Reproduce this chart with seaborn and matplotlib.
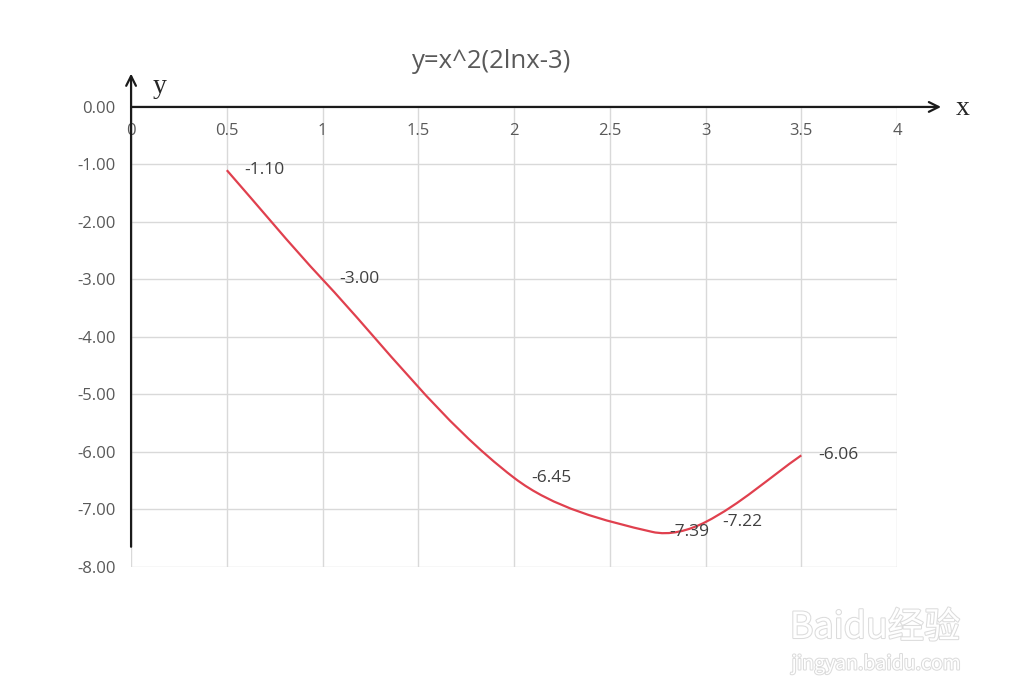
import numpy as np
import matplotlib.pyplot as plt
import seaborn as sns
import matplotlib.patheffects as pe
from matplotlib.path import Path
from matplotlib.patches import PathPatch

# 数据
x_vals = [0.5, 1.0, 2.0, 2.72, 3.0, 3.5]
y_vals = [-1.10, -3.00, -6.45, -7.39, -7.22, -6.06]
x_ticks = [0, 0.5, 1, 1.5, 2, 2.5, 3, 3.5, 4]
x_tick_labels = ['0', '0.5', '1', '1.5', '2', '2.5', '3', '3.5', '4']
y_ticks = [0, -1, -2, -3, -4, -5, -6, -7, -8]
chart_title = 'y=x^2(2lnx-3)'

sns.set_style('white')
plt.rcParams['font.family'] = ['Open Sans', 'DejaVu Sans']

fig = plt.figure(figsize=(10.24, 6.99), dpi=100)
ax = fig.add_axes([0.128, 0.189, 0.748, 0.658])
ax.set_xlim(0, 4)
ax.set_ylim(-8, 0)

# 网格
ax.set_xticks(x_ticks)
ax.set_xticklabels([])
ax.set_yticks(y_ticks)
ax.set_yticklabels([f'{v:.2f}' for v in y_ticks], color='#595959', fontsize=12)
ax.tick_params(length=0, pad=11)
ax.grid(True, color='#d9d9d9', lw=1)
for s in ax.spines.values():
    s.set_visible(False)

# x 轴刻度标签（在 y=0 线下方）
for t, lab in zip(x_ticks, x_tick_labels):
    ax.text(t, -0.42, lab, ha='center', va='center', fontsize=12, color='#595959')

# 平滑曲线（类似 Excel 的平滑线），在像素比例下计算控制点
sx, sy = 191.5, 57.5
pts = np.array([[x * sx, y * sy] for x, y in zip(x_vals, y_vals)])
n = len(pts)
verts = [pts[0]]
codes = [Path.MOVETO]
for i in range(n - 1):
    p1, p2 = pts[i], pts[i + 1]
    seg = np.linalg.norm(p2 - p1)
    d1 = p2 - (pts[i - 1] if i > 0 else p1)
    d2 = (pts[i + 2] if i + 2 < n else p2) - p1
    c1 = p1 + d1 / np.linalg.norm(d1) * seg / 3
    c2 = p2 - d2 / np.linalg.norm(d2) * seg / 3
    verts += [c1, c2, p2]
    codes += [Path.CURVE4] * 3
verts = np.array(verts) / [sx, sy]
ax.add_patch(PathPatch(Path(verts, codes), fill=False, edgecolor='#e0404e', lw=1.6, zorder=3))

# 数据标签
for xv, yv in zip(x_vals, y_vals):
    ax.annotate(f'{yv:.2f}', (xv, yv), xytext=(17, 0), textcoords='offset pixels',
                ha='left', va='center', fontsize=12.5, color='#404040', zorder=4)

# 坐标轴箭头
arrow = dict(arrowstyle='->,head_length=0.7,head_width=0.35', color='#1a1a1a', lw=1.6,
             shrinkA=0, shrinkB=0)
ax.annotate('', xy=(4.23, 0), xytext=(0, 0), arrowprops=arrow, annotation_clip=False, zorder=5)
ax.annotate('', xy=(0, 0.58), xytext=(0, -7.65), arrowprops=arrow, annotation_clip=False, zorder=5)
ax.text(4.345, -0.02, 'x', fontsize=20, family='Liberation Serif', ha='center', va='center', clip_on=False)
ax.text(0.15, 0.36, 'y', fontsize=20, family='Liberation Serif', ha='center', va='center', clip_on=False)

# 标题
fig.text(492 / 1024, 1 - 61 / 699, chart_title, ha='center', va='center', fontsize=18.5, color='#595959')

# 水印
wm = [pe.withStroke(linewidth=1.5, foreground='#dcdcdc')]
fig.text(875 / 1024, 1 - 628 / 699, 'Baidu经验', ha='center', va='center', fontsize=26,
         color='white', family=['Noto Sans CJK SC', 'DejaVu Sans'], path_effects=wm)
fig.text(876 / 1024, 1 - 664 / 699, 'jingyan.baidu.com', ha='center', va='center', fontsize=14,
         color='white', family=['Noto Sans CJK SC', 'DejaVu Sans'], path_effects=wm)

fig.savefig('out.png', dpi=100)
